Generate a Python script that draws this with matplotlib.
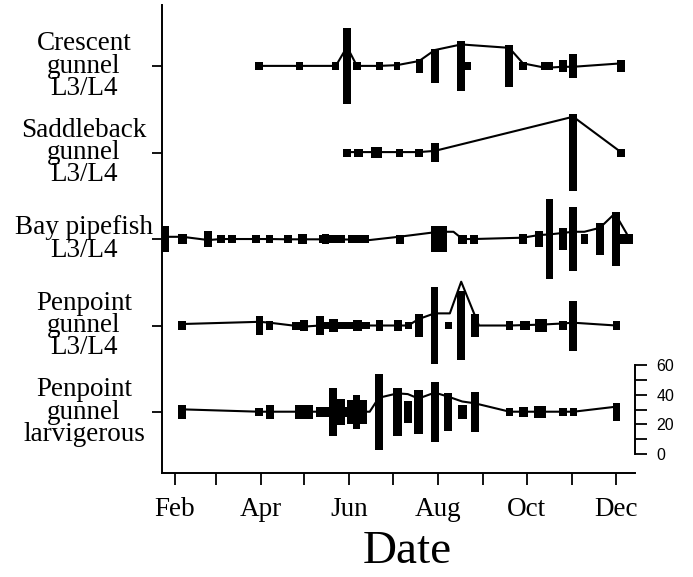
import matplotlib
matplotlib.use("Agg")
import matplotlib.pyplot as plt
import matplotlib.transforms as mtransforms

# day of year for month starts (Feb..Dec)
month_days = [32, 60, 91, 121, 152, 182, 213, 244, 274, 305, 335]
month_labels = ['Feb', '', 'Apr', '', 'Jun', '', 'Aug', '', 'Oct', '', 'Dec']

row_names = ['Penpoint\ngunnel\nlarvigerous', 'Penpoint\ngunnel\nL3/L4',
             'Bay pipefish\nL3/L4', 'Saddleback\ngunnel\nL3/L4',
             'Crescent\ngunnel\nL3/L4']

# --- Crescent gunnel L3/L4
cres_bar_day = [89.6, 117.4, 142.6, 150.3, 157.1, 172.5, 184.6, 199.9, 210.6, 228.8,
                232.8, 261.8, 271.3, 288.0, 298.8, 305.8, 338.6]
cres_bar_w = [5.3, 4.8, 4.8, 5.0, 5.0, 4.6, 4.6, 4.8, 5.3, 5.3,
              4.8, 5.3, 5.0, 8.0, 5.0, 5.5, 5.0]
cres_bar_h = [5.4, 5.4, 5.4, 51.8, 5.4, 5.4, 5.4, 9.5, 23.2, 33.8,
              5.4, 28.6, 5.4, 5.4, 8.6, 15.7, 8.6]
cres_line_day = [89.6, 117.4, 142.6, 150.3, 157.1, 172.5, 184.6, 199.9, 210.6, 228.8,
                 261.8, 271.3, 286.9, 298.8, 305.8, 338.6]
cres_line_val = [28.5, 28.5, 28.5, 41.4, 28.5, 28.5, 29.0, 31.8, 39.2, 43.0,
                 40.7, 30.2, 27.2, 27.9, 27.9, 30.2]

# --- Saddleback gunnel L3/L4
sadd_bar_day = [150.3, 158.0, 170.5, 186.5, 199.8, 210.6, 305.8, 338.6]
sadd_bar_w = [5.0, 6.0, 8.0, 5.0, 5.3, 5.3, 5.5, 5.0]
sadd_bar_h = [5.4, 5.4, 7.4, 5.4, 5.4, 12.8, 52.2, 5.4]
sadd_line_day = [150.3, 158.0, 170.5, 186.5, 199.8, 210.6, 305.8, 338.6]
sadd_line_val = [28.7, 28.7, 28.7, 28.7, 28.7, 29.5, 52.6, 28.7]

# --- Bay pipefish L3/L4
pipe_bar_day = [25.6, 37.2, 54.9, 63.8, 71.3, 87.8, 97.0, 109.6, 119.9, 135.5,
                140.1, 158.4, 186.7, 213.3, 229.7, 237.7, 271.1, 282.4, 289.5, 298.6,
                305.8, 313.5, 324.2, 335.3, 342.5]
pipe_bar_w = [4.6, 5.7, 5.5, 5.3, 5.3, 5.3, 5.3, 5.3, 6.2, 5.3,
              17.7, 14.4, 5.5, 11.0, 5.7, 5.7, 5.3, 5.7, 5.3, 5.3,
              5.5, 5.3, 5.5, 5.3, 9.1]
pipe_bar_h = [17.1, 6.8, 10.3, 5.2, 5.2, 5.2, 5.2, 5.2, 6.8, 7.2,
              5.6, 5.6, 6.1, 18.0, 6.1, 6.1, 6.8, 11.3, 54.0, 14.6,
              42.8, 6.8, 21.4, 36.0, 6.8]
pipe_line_day = [25.6, 37.2, 54.9, 63.8, 71.3, 87.8, 97.0, 109.6, 119.9, 135.5,
                 158.4, 165.8, 186.7, 213.3, 223.5, 229.7, 237.7, 271.1, 282.4, 289.5,
                 298.6, 305.8, 313.5, 324.2, 334.5, 342.5]
pipe_line_val = [29.9, 29.9, 27.7, 28.4, 28.4, 28.4, 28.4, 28.2, 28.2, 28.2,
                 28.0, 27.7, 30.0, 33.3, 33.3, 28.4, 28.4, 29.3, 31.1, 31.5,
                 32.5, 33.3, 33.3, 36.0, 45.7, 32.2]

# --- Penpoint gunnel L3/L4
pen_bar_day = [36.6, 90.2, 97.1, 117.1, 120.8, 131.7, 150.0, 141.2, 157.5, 172.7,
               185.2, 192.4, 199.6, 210.5, 220.2, 228.8, 238.3, 262.1, 272.4, 283.8,
               298.8, 305.8, 335.4]
pen_bar_w = [5.5, 5.1, 5.1, 9.1, 5.7, 5.5, 32.0, 6.2, 5.7, 5.0,
             5.3, 4.6, 5.3, 5.3, 5.0, 5.3, 5.5, 5.0, 6.9, 8.5,
             5.0, 5.5, 5.0]
pen_bar_h = [6.3, 12.4, 6.3, 5.4, 6.8, 13.0, 4.9, 8.6, 7.2, 6.8,
             6.8, 4.7, 16.2, 51.8, 5.0, 46.2, 16.2, 6.3, 6.3, 9.0,
             6.3, 33.8, 6.3]
pen_line_day = [36.6, 90.2, 97.1, 119.7, 131.7, 192.4, 199.6, 210.5, 221.0, 228.8,
                241.0, 262.1, 283.8, 298.8, 305.8, 335.4]
pen_line_val = [29.4, 30.9, 30.3, 27.6, 28.4, 28.4, 32.8, 36.6, 36.6, 58.0,
                28.4, 28.4, 29.0, 29.8, 30.3, 28.4]

# --- Penpoint gunnel larvigerous
larv_bar_day = [36.6, 89.7, 97.2, 120.7, 133.5, 140.8, 145.4, 148.5, 156.6, 157.1,
                172.1, 185.0, 192.1, 199.4, 210.6, 219.8, 229.5, 238.1, 262.1, 271.8,
                283.1, 298.8, 306.1, 335.4]
larv_bar_w = [5.5, 5.3, 5.8, 12.6, 9.0, 5.5, 6.9, 9.9, 5.0, 14.0,
              5.3, 5.7, 5.3, 5.7, 5.7, 5.7, 6.2, 5.7, 5.0, 6.0,
              8.0, 5.0, 5.0, 5.0]
larv_bar_h = [9.0, 5.2, 9.0, 9.2, 6.5, 32.2, 18.0, 7.2, 23.6, 15.8,
              51.8, 32.2, 14.2, 30.4, 41.2, 25.5, 9.0, 26.6, 5.2, 6.8,
              7.9, 5.2, 5.2, 12.0]
larv_line_day = [36.6, 89.7, 97.2, 120.7, 165.9, 172.1, 185.0, 192.1, 199.4, 210.6,
                 219.8, 229.5, 238.1, 262.1, 306.1, 335.4]
larv_line_val = [30.2, 28.6, 28.6, 28.6, 28.6, 38.0, 41.0, 40.5, 37.5, 41.5,
                 38.8, 35.5, 34.3, 28.6, 28.6, 32.0]

rows = [
    (larv_bar_day, larv_bar_w, larv_bar_h, larv_line_day, larv_line_val),
    (pen_bar_day, pen_bar_w, pen_bar_h, pen_line_day, pen_line_val),
    (pipe_bar_day, pipe_bar_w, pipe_bar_h, pipe_line_day, pipe_line_val),
    (sadd_bar_day, sadd_bar_w, sadd_bar_h, sadd_line_day, sadd_line_val),
    (cres_bar_day, cres_bar_w, cres_bar_h, cres_line_day, cres_line_val),
]

row_step = 58.45   # vertical offset between rows (scale units)
row_mid = 28.4     # bars are centred at this level of each row

serif = 'Liberation Serif'
fig = plt.figure(figsize=(6.93, 5.77), dpi=100)
ax = fig.add_axes([0.2338, 0.1802, 0.6825, 0.811])

baselines = []
for k, (bd, bw, bh, ld, lv) in enumerate(rows):
    off = k * row_step
    base = off + row_mid
    baselines.append(base)
    bottoms = [base - h / 2 for h in bh]
    ax.bar(bd, bh, width=bw, bottom=bottoms, color='black', linewidth=0, zorder=2)
    ax.plot(ld, [off + v for v in lv], color='black', lw=1.5, zorder=3)

ax.set_xlim(23.1, 348.3)
ax.set_ylim(-12.84, 303.4)

for s in ['top', 'right']:
    ax.spines[s].set_visible(False)
for s in ['left', 'bottom']:
    ax.spines[s].set_linewidth(1.4)

ax.set_xticks(month_days)
ax.set_xticklabels(month_labels, fontfamily=serif, fontsize=19.5)
ax.tick_params(axis='x', direction='out', length=8.5, width=1.3, pad=9)

ax.set_yticks(baselines)
ax.set_yticklabels([])
ax.tick_params(axis='y', direction='out', length=7, width=1.3)

# row names
trans = mtransforms.blended_transform_factory(ax.transAxes, ax.transData)
for base, name in zip(baselines, row_names):
    ax.text(-0.165, base, name, transform=trans, ha='center', va='center',
            multialignment='center', fontfamily=serif, fontsize=19.5, linespacing=0.86)

# scale bar on right
sc = ax.twinx()
sc.set_ylim(ax.get_ylim())
for s in ['top', 'left', 'bottom']:
    sc.spines[s].set_visible(False)
sc.spines['right'].set_bounds(0, 60)
sc.spines['right'].set_linewidth(1.4)
sc.set_yticks(range(0, 61, 10))
sc.set_yticklabels(['0', '', '20', '', '40', '', '60'],
                   fontfamily='Liberation Sans', fontsize=11.5)
sc.tick_params(axis='y', direction='out', length=8.5, width=1.3, pad=7)

fig.text(407 / 693, 1 - 552 / 577, 'Date', ha='center', va='center',
         fontfamily=serif, fontsize=34)

fig.savefig('out.png', dpi=100)
